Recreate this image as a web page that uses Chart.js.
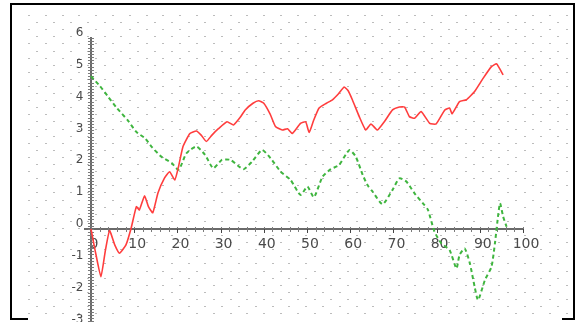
<!DOCTYPE html>
<html lang="en">
<head>
<meta charset="UTF-8">
<title>Chart</title>
<script src="https://cdn.jsdelivr.net/npm/chart.js@4.4.1/dist/chart.umd.min.js"></script>
<style>
  html, body { margin: 0; padding: 0; background: #fff; overflow: hidden; }
</style>
</head>
<body>
<canvas id="myChart" width="577" height="351"></canvas>
<script>
// red solid series
const redX = [0, 1, 2.3, 3.3, 4.3, 5.5, 6.6, 8.1, 9.3, 10.5, 11.2, 12.4, 13.3, 14.3, 15.5, 17, 18.2, 19.4, 20.2,
  21.3, 22.9, 24.4, 25.5, 26.7, 28, 29.5, 31.5, 33, 34.5, 35.7, 37.5, 38.8, 40, 41.5, 42.7, 44.3, 45.5, 46.6,
  48.5, 49.7, 50.5, 51.5, 52.8, 54.5, 55.9, 57.3, 58.6, 59.5, 60.5, 62.1, 63.6, 64.8, 66.3, 67.9, 69.8, 71.4,
  72.6, 73.7, 74.9, 76.4, 78.4, 79.9, 81.9, 83, 83.6, 85.3, 86.9, 88.8, 90.8, 92.7, 93.9, 95.4];
const redY = [0, -0.7, -1.5, -0.7, -0.05, -0.5, -0.76, -0.5, 0.03, 0.7, 0.6, 1.04, 0.7, 0.51, 1.13, 1.6, 1.8, 1.54, 1.92,
  2.59, 3.0, 3.08, 2.95, 2.75, 2.95, 3.15, 3.37, 3.27, 3.5, 3.74, 3.95, 4.03, 3.95, 3.6, 3.22, 3.11, 3.15, 3.0,
  3.32, 3.37, 3.03, 3.4, 3.8, 3.95, 4.06, 4.25, 4.46, 4.35, 4.06, 3.53, 3.11, 3.3, 3.11, 3.37, 3.74, 3.83,
  3.83, 3.53, 3.48, 3.69, 3.32, 3.3, 3.74, 3.8, 3.62, 4.0, 4.06, 4.32, 4.74, 5.1, 5.19, 4.84];

// green dashed series
const greenX = [0, 2, 4, 6, 8.6, 10.5, 12.5, 14, 16.3, 18.7, 20.3, 22.1, 24.4, 26.4, 28.3, 30.3, 32.3, 35.3, 37.3,
  39.6, 41.6, 43.9, 46.2, 48.5, 50.1, 51.6, 53.6, 55.5, 57.4, 59.8, 61.3, 62.9, 64, 65.2, 67.5, 69.8, 71.4, 73,
  74.9, 76.8, 78, 79.5, 81.1, 83, 84.6, 85.3, 86.5, 87.7, 88.8, 89.6, 91.2, 92.7, 93.5, 94.3, 94.7, 95.4, 96.2];
const greenY = [4.8, 4.5, 4.15, 3.8, 3.4, 3.05, 2.85, 2.59, 2.27, 2.07, 1.86, 2.38, 2.59, 2.33, 1.91, 2.17, 2.17, 1.88, 2.12,
  2.48, 2.22, 1.8, 1.54, 1.07, 1.33, 1.0, 1.64, 1.88, 2.01, 2.48, 2.27, 1.7, 1.38, 1.17, 0.78, 1.23, 1.59, 1.49,
  1.12, 0.81, 0.6, -0.08, -0.45, -0.66, -1.24, -0.82, -0.61, -1.08, -1.81, -2.23, -1.6, -1.19, -0.45, 0.49, 0.81, 0.39, 0.07];

const xTicks = [0, 10, 20, 30, 40, 50, 60, 70, 80, 90, 100];
const yTicks = [-3, -2, -1, 0, 1, 2, 3, 4, 5, 6];

const toPoints = (xs, ys) => xs.map((x, i) => ({ x: x, y: ys[i] }));

// dotted backdrop, minor ticks and the frame
const decor = {
  id: 'decor',
  beforeDraw(chart) {
    const ctx = chart.ctx;
    ctx.save();
    ctx.fillStyle = '#fff';
    ctx.fillRect(0, 0, chart.width, chart.height);
    ctx.fillStyle = '#bcbcbc';
    let row = 0;
    for (let y = 15; y < 320; y += 7.1, row++) {
      const off = row % 2 ? 8.4 : 0;
      for (let x = 28 + off; x < 568; x += 16.8) {
        ctx.fillRect(Math.round(x), Math.round(y), 2, 1);
      }
    }
    ctx.restore();
  },
  beforeDatasetsDraw(chart) {
    const ctx = chart.ctx;
    const xs = chart.scales.x, ys = chart.scales.y;
    const x0 = xs.getPixelForValue(0), y0 = ys.getPixelForValue(0);
    ctx.save();
    ctx.strokeStyle = '#7a7a7a';
    ctx.lineWidth = 1;
    ctx.beginPath();
    for (let v = -34; v <= 60; v++) {
      const py = Math.round(ys.getPixelForValue(v / 10)) + 0.5;
      ctx.moveTo(x0 - 3, py);
      ctx.lineTo(x0 + 3, py);
    }
    for (let v = 0; v <= 100; v += 2) {
      const px = Math.round(xs.getPixelForValue(v)) + 0.5;
      ctx.moveTo(px, y0 - 2);
      ctx.lineTo(px, y0 + 3);
    }
    ctx.stroke();
    ctx.strokeStyle = '#444';
    ctx.beginPath();
    xTicks.forEach(v => {
      const px = Math.round(xs.getPixelForValue(v)) + 0.5;
      ctx.moveTo(px, y0);
      ctx.lineTo(px, y0 + 4);
    });
    ctx.stroke();
    ctx.restore();
  },
  afterDraw(chart) {
    const ctx = chart.ctx;
    ctx.save();
    ctx.strokeStyle = '#000';
    ctx.lineWidth = 2;
    ctx.beginPath();
    ctx.moveTo(28, 319);
    ctx.lineTo(11, 319);
    ctx.lineTo(11, 4);
    ctx.lineTo(574, 4);
    ctx.lineTo(574, 319);
    ctx.lineTo(562, 319);
    ctx.stroke();
    ctx.restore();
  }
};

const ctx = document.getElementById('myChart').getContext('2d');
new Chart(ctx, {
  type: 'scatter',
  data: {
    datasets: [
      {
        label: 'red',
        data: toPoints(redX, redY),
        showLine: true,
        borderColor: '#ff3d3d',
        borderWidth: 1.6,
        pointRadius: 0,
        tension: 0.15
      },
      {
        label: 'green',
        data: toPoints(greenX, greenY),
        showLine: true,
        borderColor: '#3fb53f',
        borderWidth: 2,
        borderDash: [4, 3],
        pointRadius: 0,
        tension: 0.2
      }
    ]
  },
  options: {
    responsive: false,
    animation: false,
    devicePixelRatio: 1,
    layout: { padding: { left: 84.5, right: 54, top: 38, bottom: 16 } },
    plugins: { legend: { display: false }, tooltip: { enabled: false } },
    scales: {
      x: {
        type: 'linear',
        position: { y: 0 },
        min: -1.5,
        max: 100,
        afterBuildTicks: s => { s.ticks = xTicks.map(v => ({ value: v })); },
        grid: { display: false, drawTicks: true, tickLength: 3 },
        border: { display: true, color: '#6a6a6a', width: 2 },
        ticks: {
          font: { family: 'DejaVu Sans', size: 14 },
          color: '#4a4a4a',
          padding: 4,
          labelOffset: 3,
          maxRotation: 0,
          autoSkip: false
        }
      },
      y: {
        type: 'linear',
        position: { x: 0 },
        min: -3.33,
        max: 6,
        afterBuildTicks: s => { s.ticks = yTicks.map(v => ({ value: v })); },
        grid: { display: false, drawTicks: false },
        border: { display: true, color: '#6a6a6a', width: 2 },
        ticks: {
          font: { family: 'DejaVu Sans', size: 12 },
          color: '#4a4a4a',
          padding: 7,
          labelOffset: -5,
          autoSkip: false,
          callback: v => v + '  '
        }
      }
    }
  },
  plugins: [decor]
});
</script>
</body>
</html>
